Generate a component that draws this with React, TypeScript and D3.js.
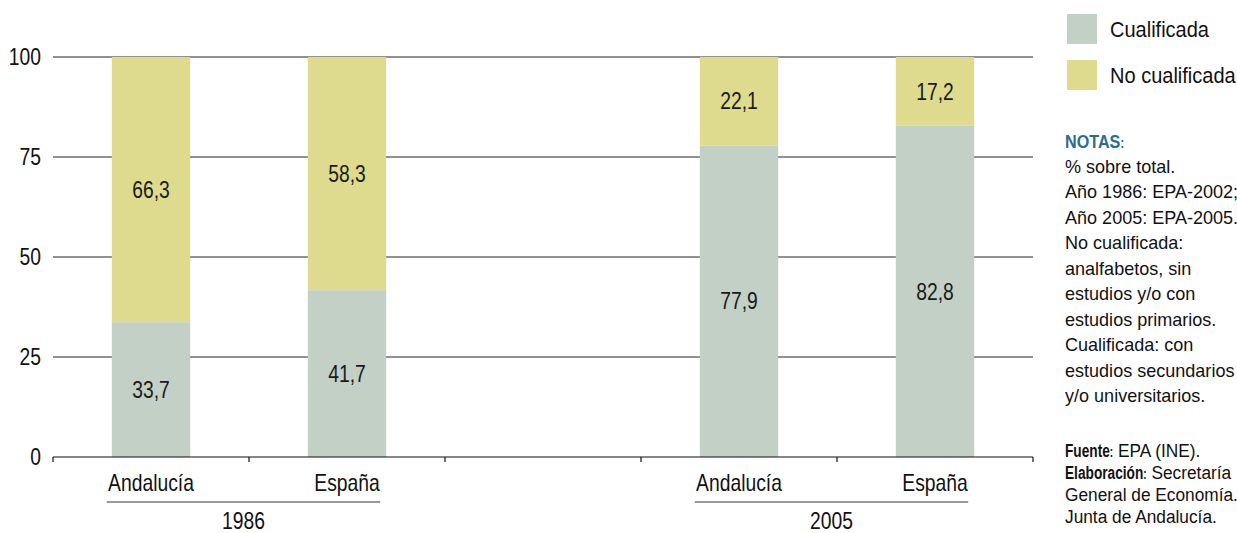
import React from "react";
import * as d3 from "d3";

const slots = ["Andalucía|1986", "España|1986", "gap", "Andalucía|2005", "España|2005"];
const barSlots = ["Andalucía|1986", "España|1986", "Andalucía|2005", "España|2005"];
const barLabels = ["Andalucía", "España", "Andalucía", "España"];
const years = ["1986", "2005"];
const yearGroups = [["Andalucía|1986", "España|1986"], ["Andalucía|2005", "España|2005"]];
const cualificada = [33.7, 41.7, 77.9, 82.8];
const noCualificada = [66.3, 58.3, 22.1, 17.2];
const yTicks = [0, 25, 50, 75, 100];
const seriesNames = ["Cualificada", "No cualificada"];
const seriesColors = ["#c2d0c6", "#dedb8e"];
const notes = [
  "% sobre total.",
  "Año 1986: EPA-2002;",
  "Año 2005: EPA-2005.",
  "No cualificada:",
  "analfabetos, sin",
  "estudios y/o con",
  "estudios primarios.",
  "Cualificada: con",
  "estudios secundarios",
  "y/o universitarios.",
];
const sources: [string, string][] = [
  ["Fuente", "EPA (INE)."],
  ["Elaboración", "Secretaría"],
  ["", "General de Economía."],
  ["", "Junta de Andalucía."],
];

const FONT = "'Liberation Sans', Arial, sans-serif";

type TProps = {
  x: number;
  y: number;
  size: number;
  sx: number;
  anchor?: "start" | "middle" | "end";
  fill?: string;
  weight?: string;
  dy?: string;
  children: React.ReactNode;
};

function T({ x, y, size, sx, anchor = "start", fill = "#111", weight = "normal", dy, children }: TProps) {
  return (
    <text
      transform={`translate(${x},${y}) scale(${sx},1)`}
      fontSize={size}
      textAnchor={anchor}
      fill={fill}
      fontWeight={weight}
      dy={dy}
    >
      {children}
    </text>
  );
}

let measureCtx: CanvasRenderingContext2D | null = null;
function measure(text: string, font: string, fallbackPerChar: number) {
  if (!measureCtx && typeof document !== "undefined") {
    measureCtx = document.createElement("canvas").getContext("2d");
  }
  if (measureCtx) {
    measureCtx.font = font;
    return measureCtx.measureText(text).width;
  }
  return text.length * fallbackPerChar;
}

export default function App() {
  const W = 1237, H = 533;
  const x = d3.scaleBand<string>().domain(slots).range([53, 1033]);
  const y = d3.scaleLinear().domain([0, 100]).range([457, 57]);
  const bw = x.bandwidth();
  const fmt = (v: number) => d3.format(".1f")(v).replace(".", ",");
  const boundaries = slots.map((s) => x(s) as number).concat([x.range()[1]]);
  const LS = 23, LX = 0.84;
  const NS = 19, NX = 0.95, SX = 0.91, BX = 0.72;

  return (
    <div style={{ position: "absolute", left: 0, top: 0 }}>
      <svg width={W} height={H} style={{ display: "block", fontFamily: FONT }}>
        <rect width={W} height={H} fill="#fff" />
        {yTicks.filter((t) => t > 0).map((t) => (
          <line key={t} x1={53} x2={1033} y1={y(t)} y2={y(t)} stroke="#222" strokeWidth={1} />
        ))}
        {yTicks.map((t) => (
          <T key={"yl" + t} x={41} y={y(t)} dy="0.36em" anchor="end" size={LS} sx={LX}>
            {t}
          </T>
        ))}
        {barSlots.map((s, i) => {
          const x0 = (x(s) as number) + bw * 0.3;
          const w = bw * 0.4;
          const c = cualificada[i];
          const n = noCualificada[i];
          return (
            <g key={s}>
              <rect x={x0} y={y(c)} width={w} height={y(0) - y(c)} fill={seriesColors[0]} />
              <rect x={x0} y={y(c + n)} width={w} height={y(c) - y(c + n)} fill={seriesColors[1]} />
              <T x={x0 + w / 2} y={y(c / 2)} dy="0.36em" anchor="middle" size={LS} sx={LX} fill="#1a1a1a">
                {fmt(c)}
              </T>
              <T x={x0 + w / 2} y={y(c + n / 2)} dy="0.36em" anchor="middle" size={LS} sx={LX} fill="#1a1a1a">
                {fmt(n)}
              </T>
              <T x={(x(s) as number) + bw / 2} y={491} anchor="middle" size={LS} sx={LX}>
                {barLabels[i]}
              </T>
            </g>
          );
        })}
        <line x1={53} x2={1033} y1={y(0)} y2={y(0)} stroke="#111" strokeWidth={1.2} />
        {boundaries.map((b, i) => (
          <line key={"t" + i} x1={b} x2={b} y1={y(0)} y2={y(0) + 5} stroke="#111" strokeWidth={1.2} />
        ))}
        {yearGroups.map((g, i) => {
          const a = (x(g[0]) as number) + bw * 0.3 - 5;
          const b = (x(g[1]) as number) + bw * 0.7 - 6;
          return (
            <g key={years[i]}>
              <line x1={a} x2={b} y1={502} y2={502} stroke="#333" strokeWidth={1} />
              <T x={(a + b) / 2} y={529} anchor="middle" size={LS} sx={LX}>
                {years[i]}
              </T>
            </g>
          );
        })}
        {seriesNames.map((nm, i) => (
          <g key={nm}>
            <rect x={1067} y={14 + i * 46} width={30} height={30} fill={seriesColors[i]} />
            <T x={1110} y={29 + i * 46} dy="0.36em" size={22} sx={0.91}>
              {nm}
            </T>
          </g>
        ))}
        <T x={1065} y={148} size={NS} sx={0.85} fill="#2b6e8a" weight="bold">
          NOTAS<tspan fontSize={14}>:</tspan>
        </T>
        {notes.map((t, i) => (
          <T key={"n" + i} x={1065} y={172.5 + i * 25.5} size={NS} sx={NX}>
            {t}
          </T>
        ))}
        {sources.map(([b, t], i) => {
          const yy = 456.5 + i * 22;
          if (!b) {
            return (
              <T key={"s" + i} x={1065} y={yy} size={NS} sx={SX}>
                {t}
              </T>
            );
          }
          const bwid = (measure(b, `bold ${NS}px 'Liberation Sans'`, 11) + measure(":", `bold 14px 'Liberation Sans'`, 4)) * BX;
          const gap = measure(" ", `${NS}px 'Liberation Sans'`, 5) * SX;
          return (
            <g key={"s" + i}>
              <T x={1065} y={yy} size={NS} sx={BX} weight="bold">
                {b}
                <tspan fontSize={14}>:</tspan>
              </T>
              <T x={1065 + bwid + gap} y={yy} size={NS} sx={SX}>
                {t}
              </T>
            </g>
          );
        })}
      </svg>
    </div>
  );
}
